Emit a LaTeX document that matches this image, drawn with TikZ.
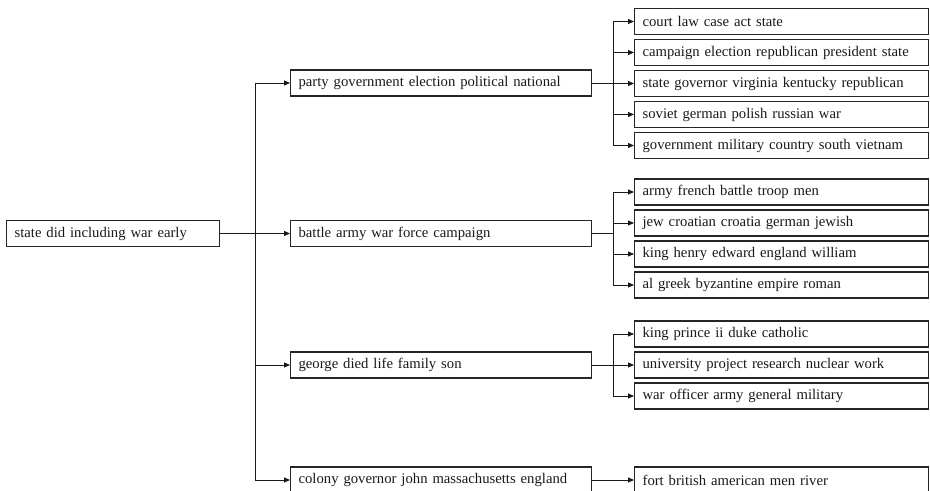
\documentclass[tikz,border=0pt]{standalone}
\usepackage{fontspec}
\setmainfont{Liberation Serif}
\usetikzlibrary{arrows.meta}
\begin{document}
\begin{tikzpicture}[x=1bp,y=-1bp,
  box/.style={draw=black!85, line width=1.2bp, minimum height=26bp, inner xsep=8bp, inner ysep=0bp,
    anchor=west, align=left, text=black!90, font=\fontsize{14.7bp}{17bp}\selectfont},
  rootbox/.style={box, text width=197bp},
  midbox/.style={box, text width=285bp},
  leafbox/.style={box, text width=278bp},
  conn/.style={draw=black!90, line width=0.9bp},
  arr/.style={conn, -{Triangle[length=6bp,width=5bp]}}
]
\useasboundingbox (0,0) rectangle (930,491);
\clip (0,0) rectangle (930,491);

% root and first level
\node[rootbox] (r) at (6,233.5) {state did including war early};
\node[midbox] (m1) at (290,83) {party government election political national};
\node[midbox] (m2) at (290,233.5) {battle army war force campaign};
\node[midbox] (m3) at (290,365) {george died life family son};
\node[midbox] (m4) at (290,480) {colony governor john massachusetts england};

% leaves
\node[leafbox] (a1) at (634,21.5) {court law case act state};
\node[leafbox] (a2) at (634,52.5) {campaign election republican president state};
\node[leafbox] (a3) at (634,83.5) {state governor virginia kentucky republican};
\node[leafbox] (a4) at (634,114.5) {soviet german polish russian war};
\node[leafbox] (a5) at (634,145.5) {government military country south vietnam};

\node[leafbox] (b1) at (634,192) {army french battle troop men};
\node[leafbox] (b2) at (634,223) {jew croatian croatia german jewish};
\node[leafbox] (b3) at (634,254) {king henry edward england william};
\node[leafbox] (b4) at (634,285) {al greek byzantine empire roman};

\node[leafbox] (c1) at (634,334) {king prince ii duke catholic};
\node[leafbox] (c2) at (634,365) {university project research nuclear work};
\node[leafbox] (c3) at (634,396) {war officer army general military};

\node[leafbox] (d1) at (634,480) {fort british american men river};

% connectors from root
\coordinate (j0) at (255,233.5);
\draw[conn] (r.east) -- (j0);
\foreach \m in {m1,m2,m3,m4} \draw[arr] (j0) |- (\m.west);

% group 1
\coordinate (j1) at (613,83);
\draw[conn] (m1.east) -- (j1);
\foreach \l in {a1,a2,a3,a4,a5} \draw[arr] (j1) |- (\l.west);

% group 2
\coordinate (j2) at (613,233.5);
\draw[conn] (m2.east) -- (j2);
\foreach \l in {b1,b2,b3,b4} \draw[arr] (j2) |- (\l.west);

% group 3
\coordinate (j3) at (613,365);
\draw[conn] (m3.east) -- (j3);
\foreach \l in {c1,c2,c3} \draw[arr] (j3) |- (\l.west);

% group 4
\draw[arr] (m4.east) -- (d1.west);
\end{tikzpicture}
\end{document}
